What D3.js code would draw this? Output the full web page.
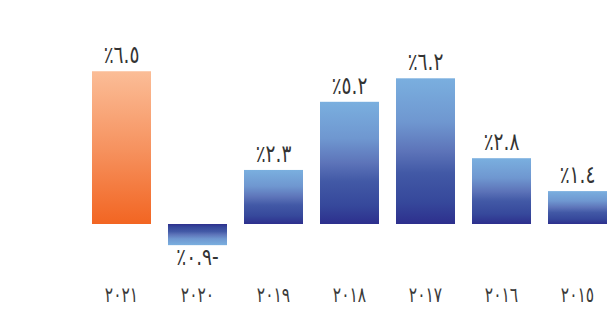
<!DOCTYPE html>
<html><head><meta charset="utf-8">
<script src="https://cdn.jsdelivr.net/npm/d3@7"></script>
<style>html,body{margin:0;padding:0;background:#fff;}svg{display:block;}</style>
</head><body>
<script>
const years = ["٢٠٢١","٢٠٢٠","٢٠١٩","٢٠١٨","٢٠١٧","٢٠١٦","٢٠١٥"];
const values = [6.5, -0.9, 2.3, 5.2, 6.2, 2.8, 1.4];
const valueLabels = ["٪٦.٥","٪٠.٩-","٪٢.٣","٪٥.٢","٪٦.٢","٪٢.٨","٪١.٤"];
const highlight = ["٢٠٢١"];

const W = 608, H = 332;
const svg = d3.select("body").append("svg").attr("width", W).attr("height", H);
const defs = svg.append("defs");

function grad(id, stops, flip) {
  const g = defs.append("linearGradient").attr("id", id)
    .attr("x1", 0).attr("x2", 0).attr("y1", flip ? 1 : 0).attr("y2", flip ? 0 : 1);
  stops.forEach(s => g.append("stop").attr("offset", s[0]).attr("stop-color", s[1]));
}
const blueStops = [[0, "#7aafdf"], [0.3, "#6f97d0"], [0.5, "#5d74b9"], [0.65, "#4259a6"], [0.85, "#36489b"], [1, "#2d2f8d"]];
const orangeStops = [[0, "#fbbd97"], [0.5, "#f69360"], [1, "#f26522"]];
grad("blue", blueStops, false);
grad("blueNeg", blueStops, true);
grad("orange", orangeStops, false);

const x = d3.scaleBand().domain(years).range([83.5, 615.5]).paddingInner(0.2237).paddingOuter(0.1118);
const y = d3.scaleLinear().domain([-1, 7]).range([247.5, 59.5]);

const data = years.map((yr, i) => ({ yr, v: values[i], lab: valueLabels[i] }));

svg.selectAll("rect.bar").data(data).join("rect")
  .attr("class", "bar")
  .attr("x", d => x(d.yr))
  .attr("width", x.bandwidth())
  .attr("y", d => Math.min(y(d.v), y(0)))
  .attr("height", d => Math.abs(y(d.v) - y(0)))
  .attr("fill", d => highlight.includes(d.yr) ? "url(#orange)" : (d.v < 0 ? "url(#blueNeg)" : "url(#blue)"));

svg.selectAll("text.val").data(data).join("text")
  .attr("class", "val")
  .attr("transform", d => `translate(${x(d.yr) + x.bandwidth() / 2},${d.v >= 0 ? y(d.v) - 8 : y(d.v) + 20}) scale(1,1.3)`)
  .attr("text-anchor", "middle")
  .attr("direction", "ltr")
  .attr("unicode-bidi", "bidi-override")
  .style("font-family", "'DejaVu Sans', sans-serif")
  .style("font-size", "18.5px")
  .attr("fill", "#333")
  .text(d => d.lab);

svg.selectAll("text.yr").data(data).join("text")
  .attr("class", "yr")
  .attr("transform", d => `translate(${x(d.yr) + x.bandwidth() / 2},302) scale(1,1.35)`)
  .attr("text-anchor", "middle")
  .attr("direction", "ltr")
  .attr("unicode-bidi", "bidi-override")
  .style("font-family", "'DejaVu Sans', sans-serif")
  .style("font-size", "15.5px")
  .attr("fill", "#3a3a3a")
  .text(d => d.yr);
</script>
</body></html>
